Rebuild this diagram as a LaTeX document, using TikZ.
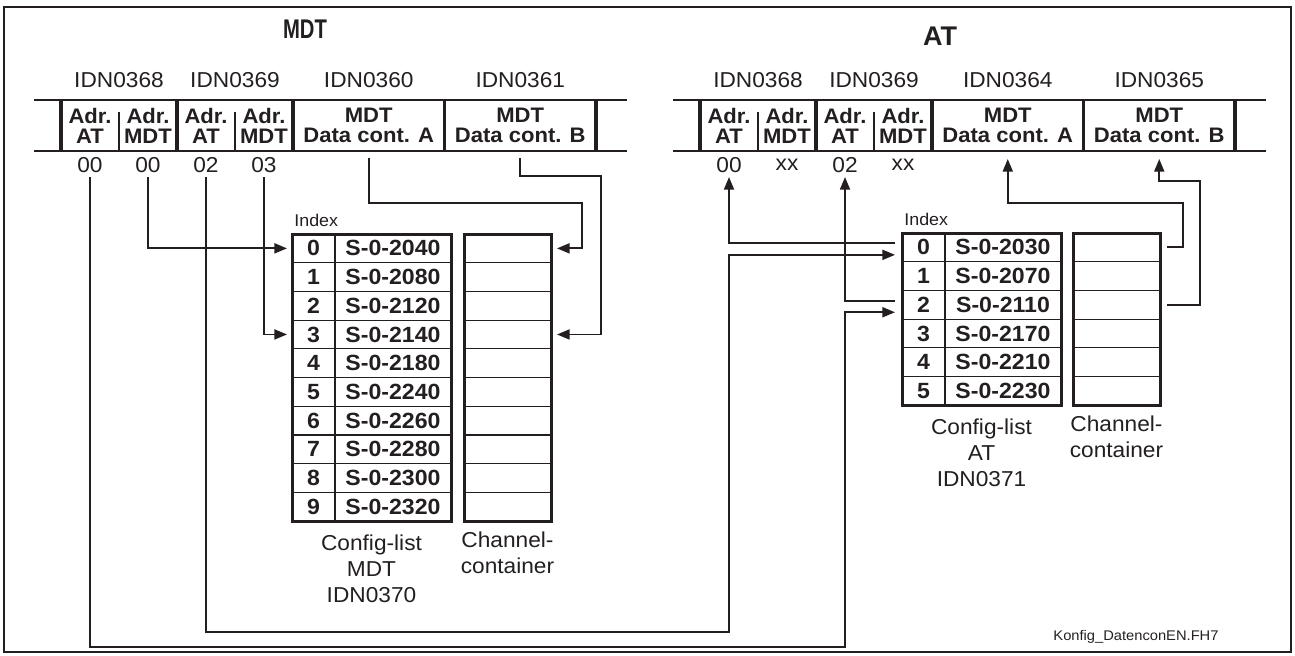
\documentclass[tikz,border=0pt]{standalone}
\usepackage{fontspec}
\setmainfont{Liberation Sans}[FakeStretch=1.05]
\newfontfamily\titlefont{Liberation Sans}
\newfontfamily\mdtfont{Liberation Sans}[FakeStretch=0.75]
\usepackage{tikz}
\usetikzlibrary{arrows.meta,calc,positioning}
\definecolor{ink}{HTML}{231F20}
\tikzset{frameline/.style={draw=ink,line width=.8pt}, barline/.style={draw=ink,line width=1pt}, thicksep/.style={draw=ink,line width=1.8pt}, thinsep/.style={draw=ink,line width=.6pt}, barcell/.style={minimum height=25.5pt,inner sep=0pt,outer sep=0pt,font=\bfseries\fontsize{10.5}{10}\selectfont,align=center,text=ink}, subcell/.style={barcell,minimum width=29pt}, datacell/.style={barcell,minimum width=75.75pt}, idnlabel/.style={font=\fontsize{10.8}{12}\selectfont,text=ink}, valtext/.style={font=\fontsize{10.8}{12}\selectfont,text=ink,inner sep=2pt}, idxcell/.style={draw=ink,line width=.6pt,minimum width=21.5pt,minimum height=14.35pt,inner sep=0pt,outer sep=0pt,font=\bfseries\fontsize{11}{12}\selectfont,text=ink}, parcell/.style={idxcell,minimum width=58pt}, chancell/.style={idxcell,minimum width=43.5pt}, tableframe/.style={draw=ink,line width=1.5pt}, indexlabel/.style={font=\fontsize{8.5}{9}\selectfont,text=ink,inner sep=1pt}, listlabel/.style={font=\fontsize{10.8}{13}\selectfont,align=center,text=ink,inner sep=2pt}, link/.style={draw=ink,line width=.9pt}, feed/.style={link,-{Triangle[length=6.3pt,width=5pt]}}, filelabel/.style={font=\fontsize{7}{8}\selectfont,text=ink}}

\begin{document}
\begin{tikzpicture}[x=.5pt,y=-.5pt]
\useasboundingbox (0,0) rectangle (1295,655);
\draw[frameline] (4,7) rectangle (1291,652);

% MDT telegram
\node[font=\mdtfont\bfseries\fontsize{13.5}{15}\selectfont,text=ink] (mTitle) at (305,29) {MDT};
\node[subcell] (mAT1) at (90,125.5) {Adr.\\AT};
\node[subcell,right=0pt of mAT1] (mMDT1) {Adr.\\MDT};
\node[subcell,right=0pt of mMDT1] (mAT2) {Adr.\\AT};
\node[subcell,right=0pt of mAT2] (mMDT2) {Adr.\\MDT};
\node[datacell,right=0pt of mMDT2] (mDA) {MDT\\Data cont. A};
\node[datacell,right=0pt of mDA] (mDB) {MDT\\Data cont. B};
\draw[barline] ($(mAT1.north west)+(-27,0)$) -- ($(mDB.north east)+(31,0)$);
\draw[barline] ($(mAT1.south west)+(-27,0)$) -- ($(mDB.south east)+(31,0)$);
\foreach \c in {mAT1,mAT2,mDA,mDB} \draw[thicksep] (\c.north west) -- (\c.south west);
\draw[thicksep] (mDB.north east) -- (mDB.south east);
\foreach \c in {mMDT1,mMDT2} \draw[thinsep] ([yshift=-6pt]\c.north west) -- (\c.south west);
\node[idnlabel] (mIdn1) at ($(mAT1.north east)+(0,-20)$) {IDN0368};
\node[idnlabel] (mIdn2) at ($(mAT2.north east)+(0,-20)$) {IDN0369};
\node[idnlabel] (mIdn3) at ($(mDA.north)+(0,-20)$) {IDN0360};
\node[idnlabel] (mIdn4) at ($(mDB.north)+(0,-20)$) {IDN0361};
\node[valtext] (mv1) at ($(mAT1.south)+(0,14)$) {00};
\node[valtext] (mv2) at ($(mMDT1.south)+(0,14)$) {00};
\node[valtext] (mv3) at ($(mAT2.south)+(0,14)$) {02};
\node[valtext] (mv4) at ($(mMDT2.south)+(0,14)$) {03};

% AT telegram
\node[font=\titlefont\bfseries\fontsize{13.5}{15}\selectfont,text=ink] (aTitle) at (940,36) {AT};
\node[subcell] (aAT1) at (729,125.5) {Adr.\\AT};
\node[subcell,right=0pt of aAT1] (aMDT1) {Adr.\\MDT};
\node[subcell,right=0pt of aMDT1] (aAT2) {Adr.\\AT};
\node[subcell,right=0pt of aAT2] (aMDT2) {Adr.\\MDT};
\node[datacell,right=0pt of aMDT2] (aDA) {MDT\\Data cont. A};
\node[datacell,right=0pt of aDA] (aDB) {MDT\\Data cont. B};
\draw[barline] ($(aAT1.north west)+(-27,0)$) -- ($(aDB.north east)+(31,0)$);
\draw[barline] ($(aAT1.south west)+(-27,0)$) -- ($(aDB.south east)+(31,0)$);
\foreach \c in {aAT1,aAT2,aDA,aDB} \draw[thicksep] (\c.north west) -- (\c.south west);
\draw[thicksep] (aDB.north east) -- (aDB.south east);
\foreach \c in {aMDT1,aMDT2} \draw[thinsep] ([yshift=-6pt]\c.north west) -- (\c.south west);
\node[idnlabel] (aIdn1) at ($(aAT1.north east)+(0,-20)$) {IDN0368};
\node[idnlabel] (aIdn2) at ($(aAT2.north east)+(0,-20)$) {IDN0369};
\node[idnlabel] (aIdn3) at ($(aDA.north)+(0,-20)$) {IDN0364};
\node[idnlabel] (aIdn4) at ($(aDB.north)+(0,-20)$) {IDN0365};
\node[valtext] (av1) at ($(aAT1.south)+(0,14)$) {00};
\node[valtext] (av2) at ($(aMDT1.south)+(0,14)$) {xx};
\node[valtext] (av3) at ($(aAT2.south)+(0,14)$) {02};
\node[valtext] (av4) at ($(aMDT2.south)+(0,14)$) {xx};

% config list MDT + channel container
\foreach \i/\p in {0/2040,1/2080,2/2120,3/2140,4/2180,5/2240,6/2260,7/2280,8/2300,9/2320}{
  \node[idxcell] (mi\i) at (313.5,{248.35+28.7*\i}) {\i};
  \node[parcell,right=0pt of mi\i] (mp\i) {S-0-\p};
  \node[chancell,right=6.5pt of mp\i] (mc\i) {};
}
\draw[tableframe] (mi0.north west) rectangle (mp9.south east);
\draw[tableframe] (mc0.north west) rectangle (mc9.south east);
\node[indexlabel,anchor=south west,yshift=2.5pt] (mIndex) at (mi0.north west) {Index};
\node[listlabel,anchor=north] (mList) at ($(mi9.south west)!0.5!(mp9.south east)+(0,9)$) {Config-list\\MDT\\IDN0370};
\node[listlabel,anchor=north] (mChan) at ($(mc9.south)+(0,6)$) {Channel-\\container};

% config list AT + channel container
\foreach \i/\p in {0/2030,1/2070,2/2110,3/2170,4/2210,5/2230}{
  \node[idxcell] (ai\i) at (923.5,{247.35+28.7*\i}) {\i};
  \node[parcell,right=0pt of ai\i] (ap\i) {S-0-\p};
  \node[chancell,right=6pt of ap\i] (ac\i) {};
}
\draw[tableframe] (ai0.north west) rectangle (ap5.south east);
\draw[tableframe] (ac0.north west) rectangle (ac5.south east);
\node[indexlabel,anchor=south west,yshift=2.5pt] (aIndex) at (ai0.north west) {Index};
\node[listlabel,anchor=north] (aList) at ($(ai5.south west)!0.5!(ap5.south east)+(0,9)$) {Config-list\\AT\\IDN0371};
\node[listlabel,anchor=north] (aChan) at ($(ac5.south)+(0,6)$) {Channel-\\container};

% connectors
\coordinate (mAout) at ($(mDA.south)+(0,7)$);
\coordinate (mBout) at ($(mDB.south)+(0,7)$);
\coordinate (aAin) at ($(aDA.south)+(0,8)$);
\coordinate (aBin) at ($(aDB.south)+(0,8)$);
\coordinate (lowA) at (av3.south |- 0,647);
\coordinate (lowB) at (av1.south |- 0,632);
\draw[feed] (mv2.south) |- ([xshift=-2.5pt]mi0.west);
\draw[feed] (mv4.south) |- ([xshift=-2.5pt]mi3.west);
\draw[feed] (mAout) -- ++(0,45) -| ([xshift=15.5pt]mc0.east) -- ([xshift=3pt]mc0.east);
\draw[feed] (mBout) -- ++(0,18) -| ([xshift=25pt]mc3.east) -- ([xshift=3pt]mc3.east);
\draw[feed] (mv1.south) |- (lowA) |- ([xshift=-3.5pt,yshift=-3.75pt]ai2.west);
\draw[feed] (mv3.south) |- (lowB) |- ([xshift=-3.5pt,yshift=-3.75pt]ai0.west);
\draw[feed] ([xshift=-3.5pt,yshift=2pt]ai0.west) -| (av1.south);
\draw[feed] ([xshift=-3.5pt,yshift=2pt]ai2.west) -| (av3.south);
\draw[feed] ([xshift=3.5pt]ac0.east) -- ++(16,0) |- ($(aAin)+(0,44)$) -- (aAin);
\draw[feed] ([xshift=3.5pt]ac2.east) -- ++(33,0) |- ($(aBin)+(0,22)$) -- (aBin);

\node[filelabel] (fileTag) at (1136,637) {Konfig\_DatenconEN.FH7};
\end{tikzpicture}
\end{document}
